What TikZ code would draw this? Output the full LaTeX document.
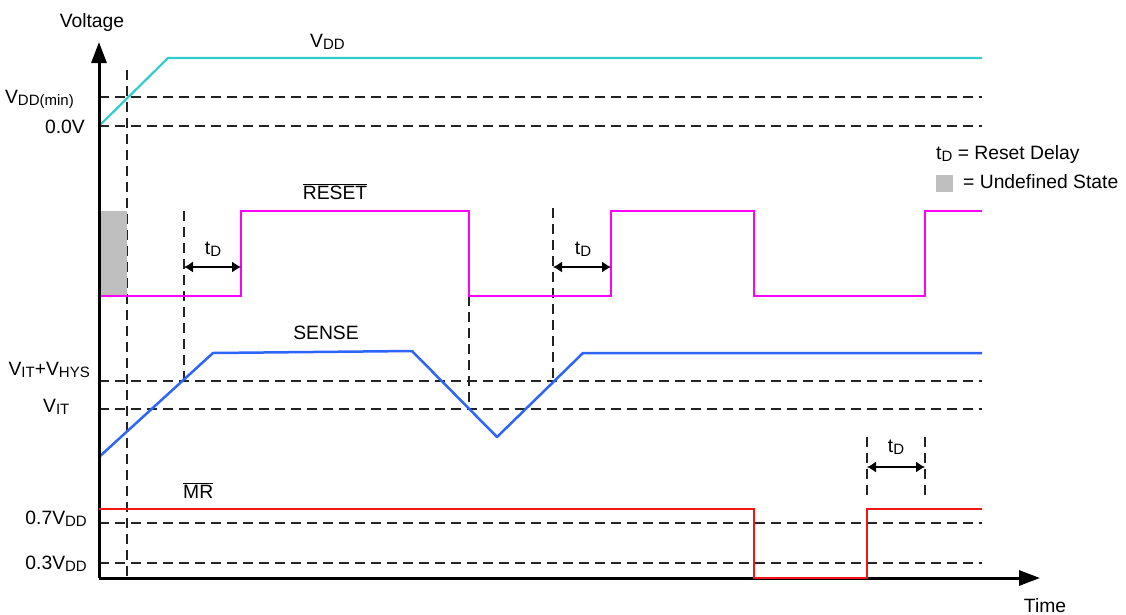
\documentclass[tikz,border=0pt]{standalone}
\usepackage{fontspec}
\setmainfont{Liberation Sans}
\usetikzlibrary{arrows.meta}
\newcommand{\lsub}[1]{\raisebox{-2.5pt}{\fontsize{15}{16}\selectfont #1}}
\definecolor{vddc}{RGB}{51,204,204}
\definecolor{rstc}{RGB}{255,0,255}
\definecolor{senc}{RGB}{45,100,250}
\definecolor{mrc}{RGB}{245,20,20}
\definecolor{undef}{RGB}{191,191,191}
\definecolor{dashc}{RGB}{35,35,35}
\begin{document}
\begin{tikzpicture}[x=1pt,y=-1pt,
  every node/.style={inner sep=0pt,font=\fontsize{19.3}{22}\selectfont},
  axisline/.style={line width=3pt,black},
  guide/.style={dashc,line width=1.5pt,dash pattern=on 10pt off 6pt},
  vddwave/.style={vddc,line width=2.2pt},
  rstwave/.style={rstc,line width=2.5pt},
  senwave/.style={senc,line width=2.5pt},
  mrwave/.style={mrc,line width=2pt},
  tdarrow/.style={black,line width=1.3pt,{Latex[length=9pt,width=11pt]}-{Latex[length=9pt,width=11pt]}}
]
\useasboundingbox (0,0) rectangle (1126,614);

% guide lines (horizontal)
\foreach \yy in {97,126,381,409,523,563}{
  \draw[guide] (99,\yy) -- (982,\yy);
}
% vertical guides
\draw[guide] (127,70) -- (127,578);
\draw[guide] (184,211) -- (184,381);
\draw[guide] (469,296) -- (469,409);
\draw[guide] (553,208) -- (553,381);
\draw[guide] (867,437) -- (867,495);
\draw[guide] (925,437) -- (925,495);

% undefined state box
\fill[undef] (99,211) rectangle (127,296);

% waveforms
\draw[vddwave] (99,126) -- (168,58) -- (982,58);
\draw[rstwave] (99,296) -- (241,296) -- (241,211) -- (469,211) -- (469,296) -- (611,296) -- (611,211) -- (754,211) -- (754,296) -- (925,296) -- (925,211) -- (982,211);
\draw[senwave,line join=round] (99,457) -- (213,353) -- (412,351) -- (497,437) -- (583,353) -- (982,353);

% axes
\coordinate (origin) at (99,578);
\coordinate (ytip) at (99,42);
\coordinate (xtip) at (1040,578);
\draw[axisline,-{Triangle[length=21pt,width=15pt]}] (origin) -- (ytip);
\draw[axisline,-{Triangle[length=21pt,width=15pt]}] (origin) -- (xtip);

\draw[mrwave] (99,509) -- (754,509) -- (754,577.5) -- (867,577.5) -- (867,509) -- (982,509);

% tD arrows
\coordinate (a1) at (184,267); \coordinate (b1) at (241,267);
\coordinate (a2) at (553,267); \coordinate (b2) at (611,267);
\coordinate (a3) at (867,467); \coordinate (b3) at (925,467);
\draw[tdarrow] (a1) -- (b1);
\draw[tdarrow] (a2) -- (b2);
\draw[tdarrow] (a3) -- (b3);

% labels
\node[anchor=base] (voltage) at (92,27) {Voltage};
\node[anchor=base] (time) at (1045,612) {Time};
\node[anchor=base west] (vddlbl) at (310,47) {V\lsub{DD}};
\node[anchor=base east] (vddmin) at (74,103) {V\lsub{DD(min)}};
\node[anchor=base east] (zero) at (85,133) {0.0V};
\node[anchor=base east] (vithys) at (90,375) {V\lsub{IT}+V\lsub{HYS}};
\node[anchor=base west] (vit) at (43,412) {V\lsub{IT}};
\node[anchor=base east] (p7) at (87,524) {0.7V\lsub{DD}};
\node[anchor=base east] (p3) at (87,569) {0.3V\lsub{DD}};
\node[anchor=base] (rstlbl) at (335,199) {$\overline{\mbox{RESET}}$};
\node[anchor=base] (senlbl) at (326,339) {SENSE};
\node[anchor=base west] (mrlbl) at (183,498) {$\overline{\mbox{MR}}$};
\node[anchor=base] (td1) at (213,254) {t\lsub{D}};
\node[anchor=base] (td2) at (583,254) {t\lsub{D}};
\node[anchor=base] (td3) at (896,452) {t\lsub{D}};

% legend
\node[anchor=base west] (leg1) at (936,159) {t\lsub{D} = Reset Delay};
\fill[undef] (936,175) rectangle (953,192);
\node[anchor=base west] (leg2) at (963,188) {= Undefined State};
\end{tikzpicture}
\end{document}
